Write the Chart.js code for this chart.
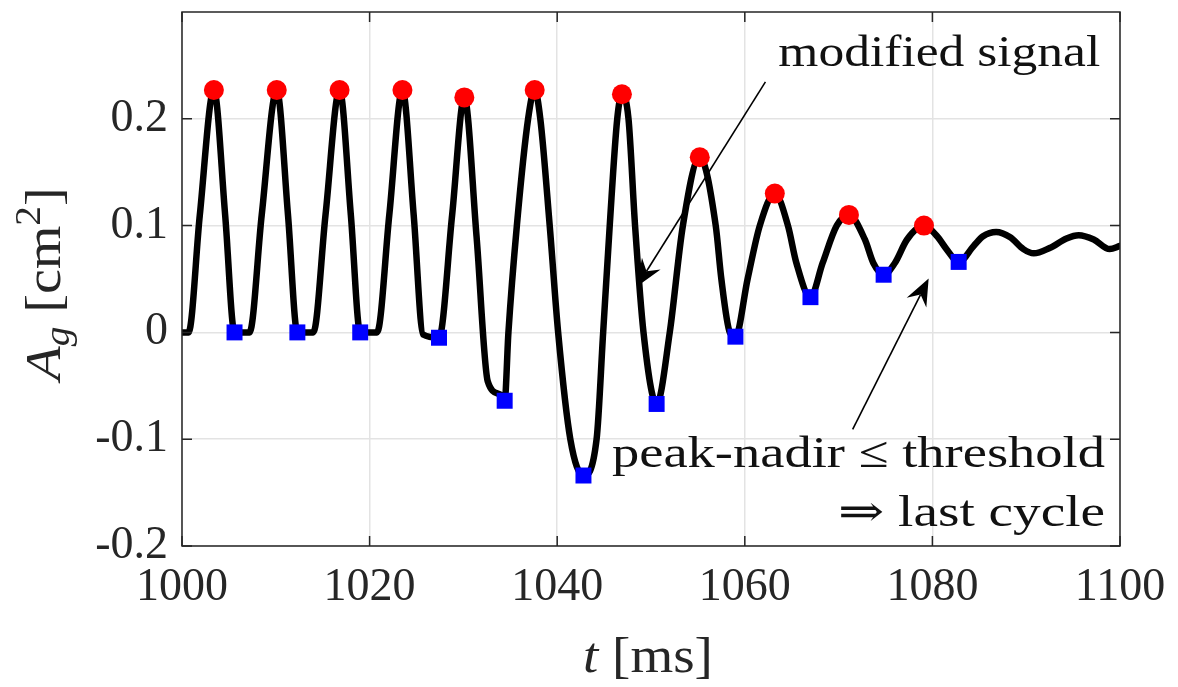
<!DOCTYPE html>
<html>
<head>
<meta charset="utf-8">
<script src="https://cdn.jsdelivr.net/npm/chart.js@4/dist/chart.umd.min.js"></script>
<style>
  html, body { margin: 0; padding: 0; background: #ffffff; }
  #wrap { width: 1178px; height: 687px; position: relative; }
</style>
</head>
<body>
<div id="wrap"><canvas id="c"></canvas></div>
<script>
// ---- data ----
const tCurve = [1000, 1000.7, 1001.9, 1003.4, 1004.6, 1005.6, 1007.2, 1008.5, 1010.1, 1011.3,
  1012.3, 1014.0, 1015.3, 1016.8, 1018.0, 1019.0, 1020.8, 1022.1, 1023.5, 1024.7,
  1025.7, 1027.4, 1028.8, 1030.1, 1031.4, 1032.6, 1033.9, 1034.4, 1034.8, 1035.7,
  1036.9, 1037.6, 1038.2, 1039.2, 1040.1, 1041.4, 1042.8, 1044.2, 1044.9, 1045.6,
  1046.4, 1046.9, 1047.6, 1048.3, 1049.2, 1050.6, 1052.0, 1053.4, 1055.2, 1056.9,
  1057.5, 1058.4, 1059.0, 1060.3, 1061.6, 1063.2, 1064.6, 1065.5, 1067.0, 1068.3,
  1069.8, 1071.1, 1072.8, 1073.7, 1074.8, 1076.0, 1077.3, 1079.1, 1080.5, 1081.5,
  1082.8, 1084.4, 1085.4, 1086.8, 1088.3, 1089.7, 1090.8, 1092.5, 1094.3, 1095.6,
  1097.2, 1098.9, 1100];
const aCurve = [0, 0, 0.11, 0.227, 0.11, 0, 0, 0.11, 0.227, 0.11,
  0, 0, 0.11, 0.227, 0.11, 0, 0, 0.11, 0.227, 0.11,
  -0.002, -0.005, 0.11, 0.22, 0.09, -0.046, -0.058, -0.064, 0, 0.1,
  0.2, 0.227, 0.2, 0.1, 0, -0.1, -0.134, -0.1, 0, 0.1,
  0.2, 0.223, 0.2, 0.1, 0, -0.067, 0, 0.1, 0.164, 0.1,
  0.05, 0, -0.004, 0.05, 0.1, 0.13, 0.1, 0.065, 0.033, 0.065,
  0.1, 0.11, 0.087, 0.065, 0.054, 0.065, 0.087, 0.100, 0.090, 0.078,
  0.066, 0.081, 0.090, 0.094, 0.089, 0.078, 0.074, 0.079, 0.088, 0.091,
  0.087, 0.078, 0.081];
const tPeak = [1003.4, 1010.1, 1016.8, 1023.5, 1030.1, 1037.6, 1046.9, 1055.2, 1063.2, 1071.1, 1079.1];
const aPeak = [0.227, 0.227, 0.227, 0.227, 0.220, 0.227, 0.223, 0.164, 0.130, 0.110, 0.100];
const tNadir = [1005.6, 1012.3, 1019.0, 1027.4, 1034.4, 1042.8, 1050.6, 1059.0, 1067.0, 1074.8, 1082.8];
const aNadir = [0, 0, 0, -0.005, -0.064, -0.134, -0.067, -0.004, 0.033, 0.054, 0.066];
const xTicks = [1000, 1020, 1040, 1060, 1080, 1100];
const yTicks = [-0.2, -0.1, 0, 0.1, 0.2];
const yTickLabels = ['-0.2', '-0.1', '0', '0.1', '0.2'];

const FONT = "'Liberation Serif', 'DejaVu Serif', serif";
const INK = '#262626';

const zip = (xs, ys) => xs.map((x, i) => ({x: x, y: ys[i]}));

// annotations (anchor in data coordinates, right-aligned, alphabetic baseline)
const notes = [
  {text: 'modified signal', t: 1097.9, v: 0.2495, w: 322},
  {text: 'peak-nadir \u2264 threshold', t: 1098.4, v: -0.126, w: 493},
  {text: '\u21D2 last cycle', t: 1098.4, v: -0.181, w: 267}
];
const arrows = [
  {from: [1062.2, 0.2346], to: [1048.5, 0.043]},
  {from: [1071.5, -0.0907], to: [1079.6, 0.0505]}
];

function drawRich(ctx, parts, x, y, sx) {
  let w = 0;
  parts.forEach(p => { ctx.font = p.font; w += ctx.measureText(p.text).width; });
  ctx.save();
  ctx.translate(x, y);
  ctx.scale(sx, 1);
  let cx = -w / 2;
  parts.forEach(p => {
    ctx.font = p.font;
    ctx.fillText(p.text, cx, (p.dy || 0));
    cx += ctx.measureText(p.text).width;
  });
  ctx.restore();
}

function drawArrow(ctx, x1, y1, x2, y2) {
  const ang = Math.atan2(y2 - y1, x2 - x1);
  const L = 27, W = 11, back = 18;
  ctx.save();
  ctx.strokeStyle = '#000';
  ctx.lineWidth = 1.6;
  ctx.beginPath();
  ctx.moveTo(x1, y1);
  ctx.lineTo(x2 - Math.cos(ang) * back, y2 - Math.sin(ang) * back);
  ctx.stroke();
  ctx.translate(x2, y2);
  ctx.rotate(ang);
  ctx.fillStyle = '#000';
  ctx.beginPath();
  ctx.moveTo(0, 0);
  ctx.lineTo(-L, -W);
  ctx.lineTo(-back, 0);
  ctx.lineTo(-L, W);
  ctx.closePath();
  ctx.fill();
  ctx.restore();
}

const decor = {
  id: 'decor',
  afterDatasetsDraw(chart) {
    const ctx = chart.ctx, xs = chart.scales.x, ys = chart.scales.y, a = chart.chartArea;
    ctx.save();
    ctx.strokeStyle = INK;
    ctx.lineWidth = 1.5;
    ctx.strokeRect(a.left, a.top, a.right - a.left, a.bottom - a.top);
    const tl = 10;
    ctx.beginPath();
    xTicks.forEach(t => {
      const px = xs.getPixelForValue(t);
      ctx.moveTo(px, a.bottom); ctx.lineTo(px, a.bottom - tl);
      ctx.moveTo(px, a.top); ctx.lineTo(px, a.top + tl);
    });
    yTicks.forEach(v => {
      const py = ys.getPixelForValue(v);
      ctx.moveTo(a.left, py); ctx.lineTo(a.left + tl, py);
      ctx.moveTo(a.right, py); ctx.lineTo(a.right - tl, py);
    });
    ctx.stroke();

    // annotation texts
    ctx.fillStyle = '#111';
    ctx.textAlign = 'left';
    ctx.textBaseline = 'alphabetic';
    ctx.font = '44px ' + FONT;
    notes.forEach(n => {
      const mw = ctx.measureText(n.text).width;
      const sx = n.w / mw;
      ctx.save();
      ctx.translate(xs.getPixelForValue(n.t) - n.w, ys.getPixelForValue(n.v));
      ctx.scale(sx, 1);
      ctx.fillText(n.text, 0, 0);
      ctx.restore();
    });
    arrows.forEach(ar => drawArrow(ctx,
      xs.getPixelForValue(ar.from[0]), ys.getPixelForValue(ar.from[1]),
      xs.getPixelForValue(ar.to[0]), ys.getPixelForValue(ar.to[1])));

    // axis titles
    ctx.fillStyle = INK;
    const xc = (a.left + a.right) / 2;
    drawRich(ctx, [
      {text: 't', font: 'italic 50px ' + FONT},
      {text: ' [ms]', font: '50px ' + FONT}
    ], xc - 3, 672, 1.1);
    ctx.save();
    ctx.translate(60, (a.top + a.bottom) / 2 + 5);
    ctx.rotate(-Math.PI / 2);
    drawRich(ctx, [
      {text: 'A', font: 'italic 50px ' + FONT},
      {text: 'g', font: 'italic 35px ' + FONT, dy: 9},
      {text: ' [cm', font: '50px ' + FONT},
      {text: '2', font: '35px ' + FONT, dy: -20},
      {text: ']', font: '50px ' + FONT}
    ], 0, 0, 1.12);
    ctx.restore();
    ctx.restore();
  }
};

new Chart(document.getElementById('c'), {
  type: 'line',
  data: {
    datasets: [
      {
        label: 'peaks',
        type: 'scatter',
        data: zip(tPeak, aPeak),
        pointStyle: 'circle',
        pointRadius: 10,
        pointBackgroundColor: '#ff0000',
        pointBorderWidth: 0,
        showLine: false
      },
      {
        label: 'nadirs',
        type: 'scatter',
        data: zip(tNadir, aNadir),
        pointStyle: 'rect',
        pointRadius: 11.3,
        pointBackgroundColor: '#0000ff',
        pointBorderWidth: 0,
        showLine: false
      },
      {
        label: 'signal',
        data: zip(tCurve, aCurve),
        borderColor: '#000000',
        borderWidth: 6.5,
        pointRadius: 0,
        cubicInterpolationMode: 'monotone',
        fill: false,
        borderJoinStyle: 'round',
        borderCapStyle: 'round'
      }
    ]
  },
  options: {
    responsive: true,
    maintainAspectRatio: false,
    animation: false,
    events: [],
    layout: { padding: { top: 12, right: 58, left: 0, bottom: 0 } },
    plugins: { legend: { display: false }, tooltip: { enabled: false } },
    scales: {
      x: {
        type: 'linear',
        min: 1000, max: 1100,
        afterBuildTicks: s => { s.ticks = xTicks.map(v => ({value: v})); },
        afterFit: s => { s.height = 141; s.paddingLeft = 0; s.paddingRight = 0; },
        grid: { color: '#e3e3e3', lineWidth: 1.5, drawTicks: false },
        border: { display: false },
        ticks: {
          color: INK,
          font: { family: FONT, size: 46 },
          padding: 14,
          maxRotation: 0,
          callback: v => String(v)
        }
      },
      y: {
        type: 'linear',
        min: -0.2, max: 0.3,
        afterBuildTicks: s => { s.ticks = yTicks.map(v => ({value: v})); },
        afterFit: s => { s.width = 182; s.paddingTop = 0; s.paddingBottom = 0; },
        grid: { color: '#e3e3e3', lineWidth: 1.5, drawTicks: false },
        border: { display: false },
        ticks: {
          color: INK,
          font: { family: FONT, size: 46 },
          padding: 14,
          callback: (v) => { const i = yTicks.findIndex(t => Math.abs(t - v) < 1e-9); return i >= 0 ? yTickLabels[i] : ''; }
        }
      }
    }
  },
  plugins: [decor]
});
</script>
</body>
</html>
